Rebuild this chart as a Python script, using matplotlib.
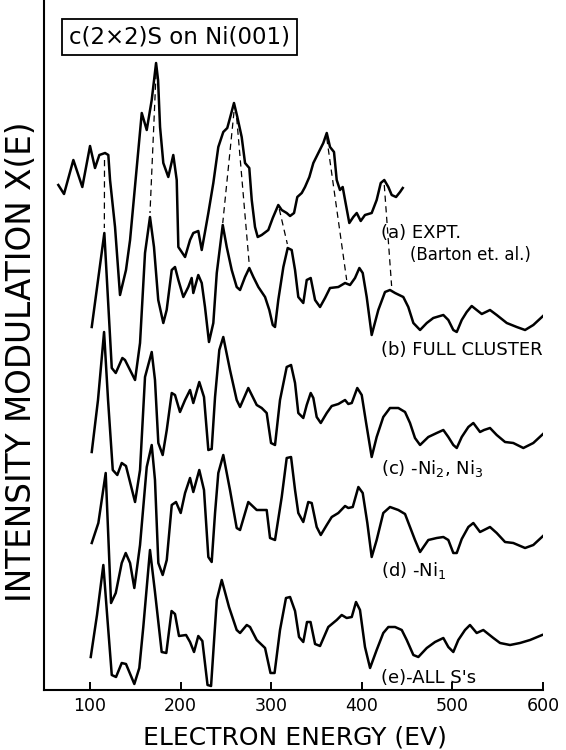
import numpy as np
import matplotlib
matplotlib.use("Agg")
import matplotlib.pyplot as plt

plt.rcParams['font.family'] = ['DejaVu Sans']
plt.rcParams['mathtext.default'] = 'regular'

# ---- data (energy in eV, relative intensity) ----
E_a = [65.0, 71.3, 81.6, 91.5, 100.0, 105.5, 110.3, 116.6, 120.2, 122.1, 127.6, 133.1,
       139.7, 144.2, 157.1, 162.6, 168.1, 172.9, 175.1, 177.3, 180.9, 186.4, 191.9, 195.7,
       197.5, 201.2, 204.9, 210.4, 214.0, 219.5, 223.3, 226.9, 230.6, 236.1, 241.6, 247.1,
       251.5, 254.5, 258.9, 262.6, 267.4, 271.1, 275.8, 278.5, 282.1, 285.1, 289.5, 296.8,
       301.7, 307.8, 311.6, 317.1, 320.8, 325.2, 328.8, 333.7, 337.3, 342.1, 346.5, 352.0,
       357.5, 361.3, 364.9, 369.3, 372.3, 375.9, 378.9, 381.5, 386.2, 390.6, 394.4, 398.8,
       403.5, 410.9, 416.4, 420.9, 424.8, 429.3, 433.0, 437.8, 442.2, 445.2]
I_a = [105, 96, 130, 103, 144, 122, 135, 137, 135, 110, 63, -5,
       20, 50, 177, 160, 190, 227, 210, 163, 127, 113, 135, 110,
       43, 38, 33, 50, 57, 59, 40, 58, 77, 107, 143, 158,
       162, 172, 187, 173, 153, 127, 122, 90, 63, 53, 55, 60,
       72, 85, 80, 77, 74, 77, 93, 97, 103, 113, 127, 137,
       147, 157, 143, 138, 110, 100, 103, 90, 67, 73, 77, 69,
       75, 77, 90, 107, 110, 103, 95, 93, 98, 102]

E_b = [101.9, 115.8, 124.0, 128.4, 135.7, 138.6, 149.7, 155.2, 160.7, 166.2, 170.6, 175.3,
       180.9, 184.6, 190.2, 193.8, 197.5, 203.0, 208.5, 212.2, 214.0, 219.5, 223.3, 226.9,
       231.3, 236.1, 239.9, 246.5, 250.9, 256.4, 261.9, 265.6, 271.1, 275.8, 280.3, 285.8,
       293.2, 297.9, 301.7, 304.2, 307.8, 313.4, 318.2, 322.6, 326.3, 329.9, 335.4, 339.2,
       343.6, 348.4, 353.9, 359.4, 364.9, 374.1, 381.5, 387.0, 392.5, 397.3, 401.0, 405.4,
       410.9, 418.2, 425.6, 431.1, 436.7, 445.8, 451.3, 456.9, 464.3, 471.7, 478.9, 490.0,
       495.5, 501.0, 504.8, 510.3, 515.8, 521.3, 526.8, 532.4, 541.5, 548.9, 560.0, 571.0,
       580.2, 589.3, 600.0]
I_b = [63, 157, 22, 17, 32, 30, 10, 47, 137, 173, 143, 90,
       67, 80, 120, 123, 110, 93, 103, 112, 97, 115, 107, 83,
       48, 67, 117, 165, 143, 120, 103, 100, 113, 122, 113, 103,
       93, 80, 65, 63, 90, 123, 142, 140, 120, 93, 87, 110,
       112, 90, 83, 92, 102, 103, 107, 105, 112, 122, 117, 93,
       55, 80, 98, 100, 97, 93, 83, 67, 60, 67, 72, 75,
       70, 60, 58, 70, 78, 84, 80, 76, 80, 75, 67, 63,
       60, 65, 74]

E_c = [101.9, 108.8, 115.5, 119.9, 125.1, 130.1, 135.0, 139.7, 149.7, 155.2, 160.7, 168.1,
       171.7, 175.4, 180.2, 184.7, 190.2, 193.8, 199.3, 204.9, 210.4, 214.0, 220.6, 225.8,
       230.6, 234.3, 238.0, 242.7, 247.1, 254.5, 261.9, 265.6, 274.7, 284.0, 289.5, 295.0,
       299.8, 304.2, 309.7, 317.1, 321.9, 326.3, 329.9, 335.4, 339.2, 343.6, 346.5, 350.2,
       354.7, 361.3, 366.8, 374.1, 381.5, 385.1, 388.9, 395.0, 399.9, 404.6, 410.9, 416.4,
       423.7, 431.1, 440.3, 447.7, 453.2, 458.7, 464.3, 473.4, 482.7, 490.0, 495.5, 501.0,
       504.8, 510.3, 517.6, 523.1, 530.5, 534.9, 541.5, 548.9, 558.1, 567.2, 578.3, 589.3,
       600.0]
I_c = [38, 90, 158, 90, 20, 15, 27, 24, -12, 20, 113, 138,
       110, 47, 35, 60, 97, 95, 78, 90, 100, 87, 108, 93,
       40, 41, 93, 140, 153, 120, 90, 83, 102, 85, 82, 77,
       47, 45, 90, 123, 125, 107, 77, 72, 85, 97, 92, 73,
       67, 77, 84, 86, 90, 86, 87, 102, 95, 68, 33, 53,
       73, 82, 82, 78, 67, 52, 45, 53, 57, 60, 53, 45,
       42, 53, 63, 67, 58, 60, 62, 55, 48, 47, 42, 47,
       56]

E_d = [101.9, 109.2, 117.3, 123.2, 128.4, 135.0, 139.4, 144.2, 148.9, 155.2, 162.6, 168.1,
       171.7, 175.4, 180.2, 184.7, 190.2, 194.9, 200.1, 204.9, 210.4, 214.0, 220.6, 225.8,
       230.6, 234.3, 238.0, 241.6, 247.1, 254.5, 261.9, 265.6, 274.7, 284.0, 295.0, 298.7,
       304.2, 311.6, 317.1, 321.9, 326.3, 329.9, 335.4, 340.9, 344.7, 350.2, 354.7, 361.3,
       366.8, 374.1, 381.5, 385.1, 390.0, 396.2, 401.0, 406.1, 410.9, 416.4, 423.7, 431.1,
       440.3, 447.7, 453.2, 458.7, 464.3, 473.4, 482.7, 490.0, 495.5, 501.0, 504.8, 510.3,
       517.6, 523.1, 530.5, 534.9, 541.5, 548.9, 558.1, 567.2, 580.2, 589.3, 600.0]
I_d = [47, 67, 117, -13, -3, 27, 37, 27, 2, 45, 123, 145,
       110, 27, 15, 30, 85, 88, 77, 97, 112, 98, 120, 100,
       33, 28, 77, 117, 135, 100, 62, 60, 88, 80, 80, 52,
       50, 93, 132, 133, 100, 77, 68, 88, 87, 63, 55, 65,
       73, 77, 84, 82, 83, 103, 97, 67, 33, 50, 77, 83,
       80, 76, 63, 50, 38, 50, 52, 53, 50, 37, 37, 51,
       63, 67, 58, 60, 63, 57, 48, 47, 42, 45, 54]

E_e = [100.8, 107.7, 114.7, 119.3, 124.0, 128.7, 135.0, 139.7, 148.9, 154.4, 158.8, 166.2,
       171.7, 179.1, 184.2, 190.0, 193.8, 198.2, 206.0, 210.4, 214.8, 219.5, 224.0, 229.7,
       233.6, 239.9, 245.4, 253.4, 261.9, 265.6, 273.0, 276.6, 284.0, 293.2, 299.2, 303.7,
       309.7, 316.3, 320.8, 326.3, 330.7, 335.4, 339.5, 343.4, 348.4, 353.9, 363.0, 372.3,
       377.8, 383.3, 388.9, 393.6, 398.0, 403.5, 409.1, 416.4, 423.7, 429.3, 436.7, 444.1,
       449.6, 456.9, 462.4, 471.7, 480.8, 490.0, 495.5, 501.0, 506.5, 513.9, 519.4, 526.8,
       534.1, 545.2, 552.6, 563.6, 574.6, 585.7, 599.0]
I_e = [33, 75, 125, 70, 15, 13, 27, 26, 6, 22, 63, 140,
       98, 38, 37, 79, 76, 54, 55, 48, 38, 54, 49, 5,
       4, 90, 110, 83, 60, 57, 65, 63, 50, 42, 17, 17,
       60, 92, 93, 79, 53, 48, 68, 68, 46, 44, 63, 70,
       75, 72, 73, 88, 80, 43, 22, 40, 57, 63, 63, 60,
       50, 35, 33, 42, 48, 52, 43, 38, 50, 60, 65, 57,
       60, 52, 47, 45, 47, 50, 55]

offsets = [400, 300, 200, 100, 0]

# peak correspondences drawn as dashed lines (energy, stacked height)
dash_E0 = [116.0, 172.9, 258.9, 261.9, 308.9, 361.3, 424.8]
dash_h0 = [530, 617, 578, 572, 481, 552, 505]
dash_E1 = [115.8, 166.2, 246.5, 275.8, 317.8, 383.3, 432.9]
dash_h1 = [462, 477, 467, 425, 446, 410, 404]

labels = ["(a) EXPT.", "(b) FULL CLUSTER", "(c) -Ni$_2$, Ni$_3$", "(d) -Ni$_1$", "(e)-ALL S's"]
label_h = [452, 335, 216, 114, 7]

W, H = 566, 750
fig = plt.figure(figsize=(W / 100, H / 100), dpi=100)
ax = fig.add_axes([44 / W, 60 / H, 499 / W, 690 / H])

curves = [(E_a, I_a), (E_b, I_b), (E_c, I_c), (E_d, I_d), (E_e, I_e)]
for (e, i), off in zip(curves, offsets):
    ax.plot(e, np.array(i) + off, color='black', lw=1.8, solid_joinstyle='round')

for x0, y0, x1, y1 in zip(dash_E0, dash_h0, dash_E1, dash_h1):
    ax.plot([x0, x1], [y0, y1], color='black', lw=0.9, linestyle=(0, (5, 3.5)))

for lab, y in zip(labels, label_h):
    ax.text(421, y, lab, fontsize=13, va='baseline', ha='left')
ax.text(453, 430, "(Barton et. al.)", fontsize=12, va='baseline', ha='left')

ax.text(199, 653, "c(2×2)S on Ni(001)", fontsize=16.5, ha='center', va='center',
        bbox=dict(boxstyle='square,pad=0.3', fc='white', ec='black', lw=1.3))

ax.set_xlim(49.2, 600)
ax.set_ylim(0, 690)
ax.spines['top'].set_visible(False)
ax.spines['right'].set_visible(False)
ax.spines['left'].set_linewidth(1.5)
ax.spines['bottom'].set_linewidth(1.5)
ax.set_yticks([])
ax.set_xticks([100, 200, 300, 400, 500, 600])
ax.tick_params(axis='x', direction='in', length=6, width=1.4, labelsize=12.5, pad=5)

fig.text(295 / W, 1 - 737 / H, "ELECTRON ENERGY (EV)", fontsize=18, ha='center', va='center')
fig.text(22 / W, 1 - 362 / H, "INTENSITY MODULATION X(E)", fontsize=23.5, rotation=90,
         ha='center', va='center')

fig.savefig("out.png", dpi=100)
